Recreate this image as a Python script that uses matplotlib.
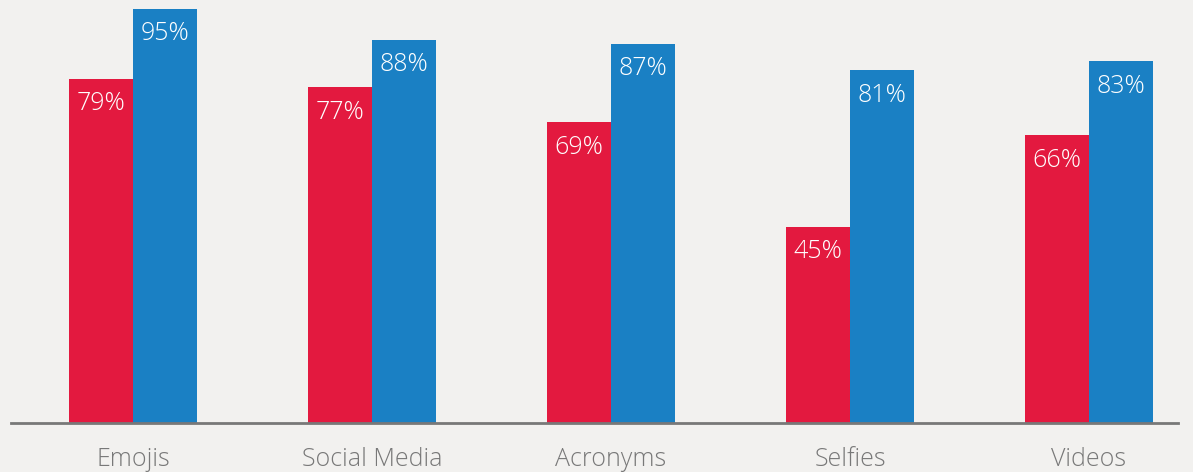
import matplotlib.pyplot as plt
import numpy as np

categories = ['Emojis', 'Social Media', 'Acronyms', 'Selfies', 'Videos']
red_values = [79, 77, 69, 45, 66]
blue_values = [95, 88, 87, 81, 83]

red = (227 / 255, 25 / 255, 63 / 255)
blue = (26 / 255, 128 / 255, 196 / 255)
bg = (242 / 255, 241 / 255, 239 / 255)
grey = (120 / 255, 120 / 255, 120 / 255)

plt.rcParams['font.family'] = ['Open Sans', 'DejaVu Sans']

fig = plt.figure(figsize=(11.93, 4.72), dpi=100, facecolor=bg)
ax = fig.add_axes([11 / 1193, 49 / 472, 1167 / 1193, 423 / 472])
ax.set_facecolor(bg)

x = np.arange(len(categories))
w = 64 / 239

bars_r = ax.bar(x - w / 2, red_values, width=w, color=red)
bars_b = ax.bar(x + w / 2, blue_values, width=w, color=blue)

# value labels sit just inside the top of each bar
for bars, vals in [(bars_r, red_values), (bars_b, blue_values)]:
    for b, v in zip(bars, vals):
        ax.annotate(f'{v}%', (b.get_x() + b.get_width() / 2, v),
                    xytext=(0, -25), textcoords='offset pixels',
                    ha='center', va='center', color='white',
                    fontsize=18, fontweight='light')

ax.set_xlim((11 - 133) / 239, (1178 - 133) / 239)
ax.set_ylim(0, 423 / (414 / 95))

for s in ['top', 'right', 'left']:
    ax.spines[s].set_visible(False)
ax.spines['bottom'].set_color(grey)
ax.spines['bottom'].set_linewidth(2)

ax.set_yticks([])
ax.set_xticks(x)
ax.set_xticklabels(categories, fontsize=18, color=grey, fontweight='light')
ax.tick_params(axis='x', length=0, pad=17)

plt.savefig('out.png', dpi=100, facecolor=bg)
